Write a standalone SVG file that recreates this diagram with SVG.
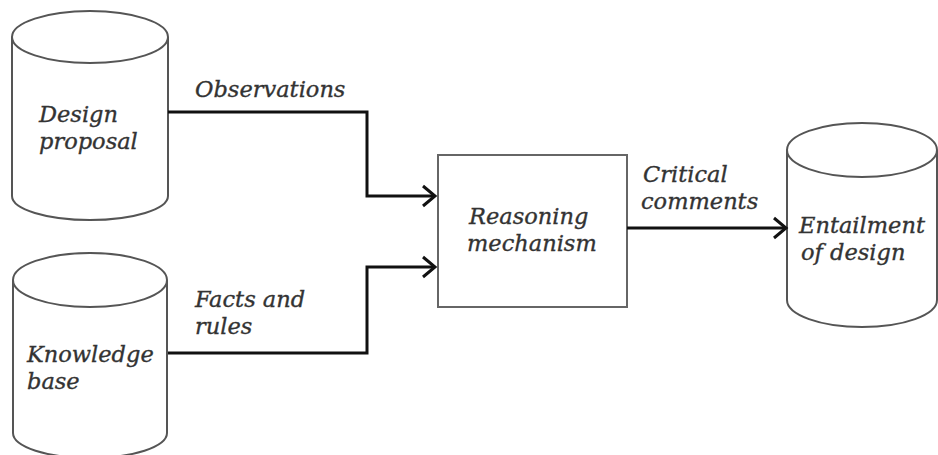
<svg xmlns="http://www.w3.org/2000/svg" width="938" height="455" viewBox="0 0 938 455">
<style>
.cyl{fill:#fff;stroke:#555;stroke-width:2}
.box{fill:#fff;stroke:#666;stroke-width:2}
.lbl{font-family:"DejaVu Serif","Liberation Serif",serif;font-style:italic;font-size:22.5px;fill:#333;stroke:#333;stroke-width:0.35}
.con{fill:none;stroke:#111;stroke-width:3}
</style>
<defs>
<marker id="arr" markerUnits="userSpaceOnUse" markerWidth="20" markerHeight="24" refX="16" refY="12" orient="auto">
<path d="M4 2 L16 12 L4 22" fill="none" stroke="#111" stroke-width="3"/>
</marker>
</defs>
<rect width="938" height="455" fill="#fff"/>
<g id="design-proposal">
<path class="cyl" d="M12 37 V196 A78 24 0 0 0 168 196 V37"/>
<ellipse class="cyl" cx="90" cy="37" rx="78" ry="26"/>
<text class="lbl" x="39" y="122">Design</text>
<text class="lbl" x="39" y="148.5">proposal</text>
</g>
<g id="knowledge-base">
<path class="cyl" d="M13 280 V433 A77 25 0 0 0 167 433 V280"/>
<ellipse class="cyl" cx="90" cy="280" rx="77" ry="27"/>
<text class="lbl" x="27" y="362">Knowledge</text>
<text class="lbl" x="27" y="388.5">base</text>
</g>
<g id="reasoning-mechanism">
<rect class="box" x="438" y="155" width="189" height="152"/>
<text class="lbl" x="469" y="224">Reasoning</text>
<text class="lbl" x="467" y="250.5">mechanism</text>
</g>
<g id="entailment">
<path class="cyl" d="M787 150 V300 A75 27 0 0 0 937 300 V150"/>
<ellipse class="cyl" cx="862" cy="150" rx="75" ry="27"/>
<text class="lbl" x="799" y="233">Entailment</text>
<text class="lbl" x="801" y="259.5">of design</text>
</g>
<g id="connectors">
<path class="con" d="M168 112 H367 V196 H435" marker-end="url(#arr)"/>
<path class="con" d="M168 353 H367 V267 H435" marker-end="url(#arr)"/>
<path class="con" d="M627 228 H786" marker-end="url(#arr)"/>
<text class="lbl" x="195" y="97">Observations</text>
<text class="lbl" x="195" y="307">Facts and</text>
<text class="lbl" x="195" y="333.5">rules</text>
<text class="lbl" x="643" y="182">Critical</text>
<text class="lbl" x="641" y="208.5">comments</text>
</g>
</svg>
